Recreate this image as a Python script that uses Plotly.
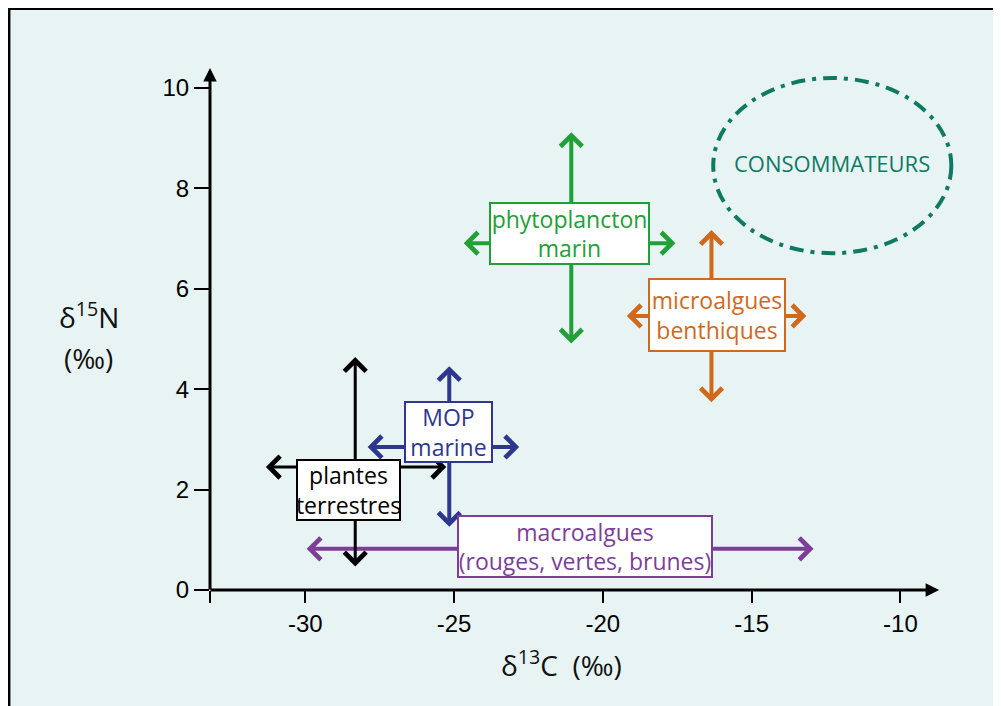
import plotly.graph_objects as go

# ---------------- data ----------------
groups = ["plantes terrestres", "MOP marine", "phytoplancton marin",
          "microalgues benthiques", "macroalgues"]
labels = ["plantes<br>terrestres", "MOP<br>marine", "phytoplancton<br>marin",
          "microalgues<br>benthiques", "macroalgues<br>(rouges, vertes, brunes)"]
# range of d13C (horizontal arrows) and d15N (vertical arrows)
c13_min = [-31.34, -27.92, -24.69, -19.21, -29.97]
c13_max = [-25.26, -22.81, -17.56, -13.16, -12.92]
c13_mid = [-28.32, -25.16, -21.06, -16.35, None]
n15_min = [0.46, 1.25, 4.90, 3.73, None]
n15_max = [4.64, 4.46, 9.12, 7.17, None]
n15_mid = [2.45, 2.85, 6.91, 5.46, 0.82]
# label position
label_x = [-28.55, -25.18, -21.11, -16.18, -20.59]
label_y = [1.99, 3.15, 7.10, 5.48, 0.87]

consumer_label = "CONSOMMATEURS"
consumer_c13 = [-16.29, -8.29]
consumer_n15 = [6.71, 10.20]

x_ticks = [-30, -25, -20, -15, -10]
y_ticks = [0, 2, 4, 6, 8, 10]
x_origin = -33.2
x_end = -8.7
y_end = 10.4

# ---------------- styles ----------------
colors = ["#000000", "#2e3790", "#22a038", "#d0691c", "#7c3f98"]
widths = [3, 4, 4, 4, 4]
box_w = [101, 85, 157, 134, 252]
box_h = [58, 58, 59, 70, 59]
teal = "#0f7a62"
bg = "#e8f4f4"
font_lab = "Open Sans, Noto Sans, sans-serif"
font_tick = "Liberation Sans, Arial, sans-serif"

OFF = 8  # page body margin
W, H = 1001, 706
ml, mt = 210 - OFF, 68 - OFF
px_per_x = 29.75
x_max = -8.2
mr = W - (ml + (x_max - x_origin) * px_per_x)
plot_h = 522
mb = H - mt - plot_h

fig = go.Figure()

# invisible trace to keep axes
fig.add_trace(go.Scatter(x=[x_origin, x_max], y=[0, y_end], mode="markers",
                         marker=dict(opacity=0), hoverinfo="skip", showlegend=False))

def px_x(px):  # screen px -> paper
    plot_w = W - ml - mr
    return (px - OFF - ml) / plot_w

def px_y(py):
    return (H - mb - (py - OFF)) / plot_h

# frame
fig.add_shape(type="rect", xref="paper", yref="paper",
              x0=px_x(9), x1=px_x(1030), y0=px_y(740), y1=px_y(8.5),
              fillcolor=bg, line=dict(color="black", width=3), layer="below")

# consumers ellipse
fig.add_shape(type="circle", xref="x", yref="y",
              x0=consumer_c13[0], x1=consumer_c13[1],
              y0=consumer_n15[0], y1=consumer_n15[1],
              line=dict(color=teal, width=4, dash="14px,7px,4px,7px"))
fig.add_annotation(x=sum(consumer_c13) / 2, y=8.5, xref="x", yref="y",
                   text=consumer_label, showarrow=False,
                   xanchor="center", yanchor="middle",
                   font=dict(family=font_lab, size=22, color=teal))

def darrow(x0, y0, x1, y1, color, w):
    s = 4.2 / w
    fig.add_annotation(x=x1, y=y1, ax=x0, ay=y0, xref="x", yref="y",
                       axref="x", ayref="y", text="", showarrow=True,
                       arrowhead=4, startarrowhead=4, arrowside="end+start",
                       arrowsize=s, startarrowsize=s, arrowwidth=w,
                       arrowcolor=color, standoff=0, startstandoff=0,
                       borderpad=0)

# arrows (macroalgues first, plantes last)
for i in [4, 1, 2, 3, 0]:
    c, w = colors[i], widths[i]
    darrow(c13_min[i], n15_mid[i], c13_max[i], n15_mid[i], c, w)
    if n15_min[i] is not None:
        darrow(c13_mid[i], n15_min[i], c13_mid[i], n15_max[i], c, w)

# label boxes
for i in range(len(groups)):
    fig.add_annotation(x=label_x[i], y=label_y[i], xref="x", yref="y",
                       text=labels[i], showarrow=False,
                       xanchor="center", yanchor="middle",
                       width=box_w[i], height=box_h[i], align="center", valign="middle",
                       bgcolor="white", bordercolor=colors[i], borderwidth=2, borderpad=0,
                       font=dict(family=font_lab, size=23, color=colors[i]))

# axes lines with arrowheads
fig.add_annotation(x=x_end, y=0, ax=x_origin, ay=0, xref="x", yref="y",
                   axref="x", ayref="y", text="", showarrow=True,
                   arrowhead=2, arrowsize=0.9, arrowwidth=3, arrowcolor="black",
                   standoff=0, borderpad=0)
fig.add_annotation(x=x_origin, y=y_end, ax=x_origin, ay=0, xref="x", yref="y",
                   axref="x", ayref="y", text="", showarrow=True,
                   arrowhead=2, arrowsize=0.9, arrowwidth=3, arrowcolor="black",
                   standoff=0, borderpad=0)

# axis titles
fig.add_annotation(xref="paper", yref="paper", x=px_x(561), y=px_y(663),
                   xanchor="center", yanchor="middle",
                   text="δ<sup>13</sup>C&nbsp;&nbsp;(‰)", showarrow=False,
                   font=dict(family=font_lab, size=28, color="#111"))
fig.add_annotation(xref="paper", yref="paper", x=px_x(89), y=px_y(315),
                   xanchor="center", yanchor="middle",
                   text="δ<sup>15</sup>N", showarrow=False,
                   font=dict(family=font_lab, size=28, color="#111"))
fig.add_annotation(xref="paper", yref="paper", x=px_x(89), y=px_y(358),
                   xanchor="center", yanchor="middle",
                   text="(‰)", showarrow=False,
                   font=dict(family=font_lab, size=28, color="#111"))

fig.update_xaxes(range=[x_origin, x_max], showgrid=False, zeroline=False, showline=False,
                 tickmode="array", tickvals=[x_origin] + x_ticks,
                 ticktext=[""] + [str(v) for v in x_ticks],
                 ticks="outside", ticklen=12, tickwidth=2, tickcolor="black",
                 tickfont=dict(family=font_tick, size=24, color="black"))
fig.update_yaxes(range=[0, y_end], showgrid=False, zeroline=False, showline=False,
                 tickmode="array", tickvals=y_ticks,
                 ticks="outside", ticklen=15, tickwidth=2, tickcolor="black",
                 tickfont=dict(family=font_tick, size=24, color="black"))

fig.update_layout(width=W, height=H, margin=dict(l=ml, r=mr, t=mt, b=mb),
                  paper_bgcolor=bg, plot_bgcolor="rgba(0,0,0,0)",
                  showlegend=False)

fig.write_html("out.html")
